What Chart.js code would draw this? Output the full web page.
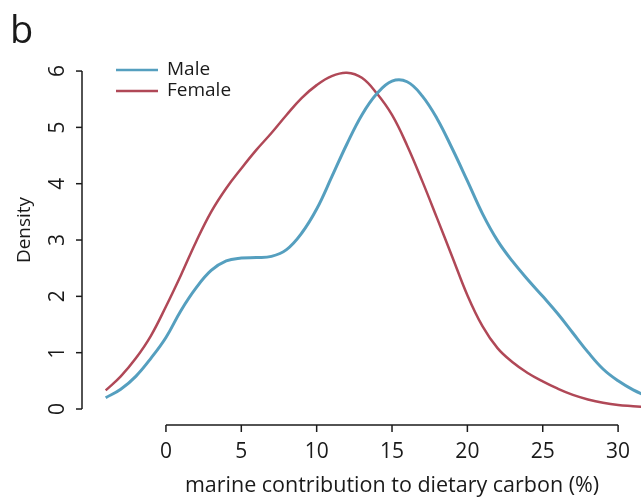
<!DOCTYPE html>
<html><head><meta charset="utf-8">
<script src="https://cdn.jsdelivr.net/npm/chart.js@4.4.1/dist/chart.umd.min.js"></script>
<style>html,body{margin:0;padding:0;background:#fff;}#wrap{width:641px;height:497px;position:relative;}</style>
</head><body><div id="wrap"><canvas id="c" width="641" height="497"></canvas></div>
<script>
// ---- data ----
const xValues       = [-4,-3,-2,-1,0,1,2,3,4,5,6,7,8,9,10,11,12,13,14,15,16,17,18,19,20,21,22,23,24,25,26,27,28,29,30,31,32];
const maleDensity   = [0.20,0.35,0.58,0.90,1.27,1.75,2.15,2.46,2.63,2.68,2.69,2.71,2.83,3.12,3.55,4.12,4.70,5.22,5.60,5.82,5.81,5.56,5.15,4.62,4.05,3.47,2.99,2.62,2.30,2.00,1.69,1.35,1.01,0.71,0.50,0.34,0.22];
const femaleDensity = [0.33,0.58,0.90,1.30,1.82,2.38,2.97,3.50,3.92,4.27,4.60,4.90,5.22,5.52,5.75,5.91,5.97,5.88,5.60,5.22,4.68,4.05,3.38,2.70,2.02,1.47,1.08,0.83,0.64,0.49,0.36,0.25,0.17,0.11,0.07,0.05,0.03];
const seriesNames   = ['Male','Female'];
const xTicks        = [0,5,10,15,20,25,30];
const yTicks        = [0,1,2,3,4,5,6];
const xTitle        = 'marine contribution to dietary carbon (%)';
const yTitle        = 'Density';
const panelLabel    = 'b';

const FONT = '"Open Sans", "Noto Sans", sans-serif';
const MALE_COL = '#559fbf';
const FEMALE_COL = '#b04857';

const axesPlugin = {
  id: 'rAxes',
  afterDatasetsDraw(chart) {
    const ctx = chart.ctx;
    const xs = chart.scales.x, ys = chart.scales.y;
    const ca = chart.chartArea;
    ctx.save();
    ctx.strokeStyle = '#1a1a1a';
    ctx.fillStyle = '#1a1a1a';
    ctx.lineWidth = 1.5;
    // x axis
    const xa = ca.bottom;
    const x0 = xs.getPixelForValue(xTicks[0]), x1 = xs.getPixelForValue(xTicks[xTicks.length-1]);
    ctx.beginPath(); ctx.moveTo(x0, xa); ctx.lineTo(x1, xa); ctx.stroke();
    ctx.font = '21px ' + FONT;
    ctx.textAlign = 'center'; ctx.textBaseline = 'middle';
    xTicks.forEach(v => {
      const px = xs.getPixelForValue(v);
      ctx.beginPath(); ctx.moveTo(px, xa); ctx.lineTo(px, xa + 7); ctx.stroke();
      ctx.fillText(String(v), px, xa + 27);
    });
    ctx.font = '21.5px ' + FONT;
    ctx.fillText(xTitle, (x0 + x1) / 2, xa + 61);
    // y axis
    const yaX = ca.left;
    const y0 = ys.getPixelForValue(yTicks[0]), y1 = ys.getPixelForValue(yTicks[yTicks.length-1]);
    ctx.beginPath(); ctx.moveTo(yaX, y0); ctx.lineTo(yaX, y1); ctx.stroke();
    ctx.font = '21px ' + FONT;
    yTicks.forEach(v => {
      const py = ys.getPixelForValue(v);
      ctx.beginPath(); ctx.moveTo(yaX, py); ctx.lineTo(yaX - 6, py); ctx.stroke();
      ctx.save(); ctx.translate(yaX - 24, py); ctx.rotate(-Math.PI/2);
      ctx.fillText(String(v), 0, 0); ctx.restore();
    });
    ctx.font = '19px ' + FONT;
    ctx.save(); ctx.translate(25, (ca.top + ca.bottom) / 2); ctx.rotate(-Math.PI/2);
    ctx.fillText(yTitle, 0, 0); ctx.restore();
    // legend
    const cols = [MALE_COL, FEMALE_COL];
    const ly = [70, 91];
    ctx.textAlign = 'left';
    seriesNames.forEach((n, i) => {
      ctx.strokeStyle = cols[i]; ctx.lineWidth = 2.5;
      ctx.beginPath(); ctx.moveTo(116, ly[i]); ctx.lineTo(158, ly[i]); ctx.stroke();
      ctx.fillStyle = '#1a1a1a';
      ctx.fillText(n, 167, ly[i]);
    });
    // panel label
    ctx.font = '38px ' + FONT;
    ctx.textBaseline = 'alphabetic';
    ctx.fillText(panelLabel, 10, 43);
    ctx.restore();
  }
};

const pts = arr => xValues.map((x, i) => ({x, y: arr[i]}));

new Chart(document.getElementById('c'), {
  type: 'line',
  data: {
    datasets: [
      { label: seriesNames[0], data: pts(maleDensity), borderColor: MALE_COL, borderWidth: 3, pointRadius: 0, tension: 0.4, fill: false },
      { label: seriesNames[1], data: pts(femaleDensity), borderColor: FEMALE_COL, borderWidth: 2.5, pointRadius: 0, tension: 0.4, fill: false }
    ]
  },
  options: {
    responsive: false, animation: false, devicePixelRatio: 1,
    layout: { padding: { left: 82, right: 0, top: 35, bottom: 72 } },
    scales: {
      x: { type: 'linear', min: -5.57, max: 31.52, display: false },
      y: { type: 'linear', min: -0.284, max: 6.64, display: false }
    },
    plugins: { legend: { display: false }, tooltip: { enabled: false } }
  },
  plugins: [axesPlugin]
});
</script></body></html>
